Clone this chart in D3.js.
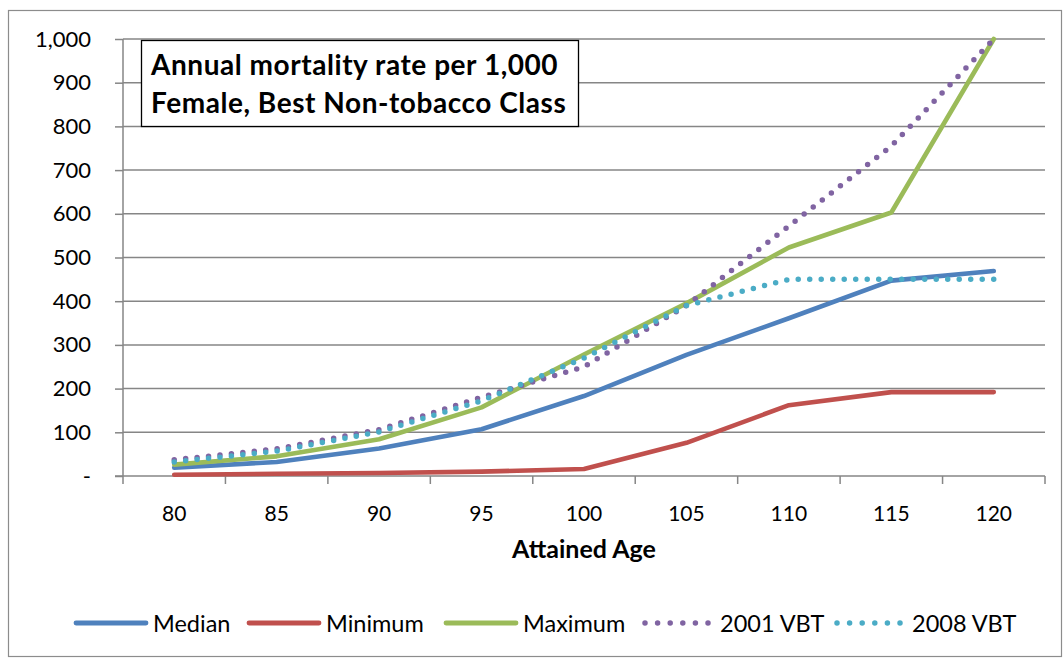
<!DOCTYPE html>
<html>
<head>
<meta charset="utf-8">
<script src="https://cdn.jsdelivr.net/npm/d3@7"></script>
<style>
  html, body { margin: 0; padding: 0; background: #fff; }
  svg { display: block; font-family: Lato, "Open Sans", sans-serif; }
</style>
</head>
<body>
<svg id="chart" width="1063" height="658"></svg>
<script>
// Attained ages (categories)
const ages = [80, 85, 90, 95, 100, 105, 110, 115, 120];

// Annual mortality rate per 1,000 by series
const median  = [19, 32, 63, 107, 183, 277, 361, 447, 469];
const minimum = [3, 5, 7, 10, 16, 76, 162, 192, 192];
const maximum = [26, 45, 84, 157, 278, 395, 523, 603, 1000];
const vbt2001 = [37, 62, 106, 180, 250, 390, 572, 755, 1000];
const vbt2008 = [32, 57, 101, 172, 270, 390, 450, 450, 450];

const yTicks = [0, 100, 200, 300, 400, 500, 600, 700, 800, 900, 1000];

const series = [
  { name: "Median",   values: median,  color: "#4F81BD", dotted: false },
  { name: "Minimum",  values: minimum, color: "#C0504D", dotted: false },
  { name: "Maximum",  values: maximum, color: "#9BBB59", dotted: false },
  { name: "2001 VBT", values: vbt2001, color: "#8064A2", dotted: true },
  { name: "2008 VBT", values: vbt2008, color: "#4BACC6", dotted: true }
];

const svg = d3.select("#chart");
const plot = { left: 123, right: 1045, top: 39, bottom: 476 };
const gridColor = "#868686";

// Outer chart frame
svg.append("rect")
  .attr("x", 8.5).attr("y", 10.5)
  .attr("width", 1053).attr("height", 646)
  .attr("fill", "#fff").attr("stroke", "#8c8c8c").attr("stroke-width", 1.2);

const x = d3.scaleBand().domain(ages).range([plot.left, plot.right]).padding(0);
const y = d3.scaleLinear().domain([0, 1000]).range([plot.bottom, plot.top]);

// Horizontal gridlines
svg.append("g")
  .selectAll("line")
  .data(yTicks.filter(d => d > 0))
  .join("line")
  .attr("x1", plot.left).attr("x2", plot.right)
  .attr("y1", d => y(d)).attr("y2", d => y(d))
  .attr("stroke", gridColor).attr("stroke-width", 1.5);

// Y axis
const yAxis = d3.axisLeft(y)
  .tickValues(yTicks)
  .tickSize(8)
  .tickPadding(24)
  .tickFormat(d => d === 0 ? "-   " : d3.format(",")(d));
const gy = svg.append("g").attr("transform", `translate(${plot.left},0)`).call(yAxis);
gy.select(".domain").attr("stroke", gridColor).attr("stroke-width", 1.5)
  .attr("d", `M0,${plot.top}V${plot.bottom}`);
gy.selectAll(".tick line").attr("stroke", gridColor).attr("stroke-width", 1.5);
gy.selectAll(".tick text").attr("font-size", 22).attr("fill", "#000")
  .attr("font-family", "Lato, sans-serif");

// X axis with tick marks between categories
const xAxis = d3.axisBottom(x).tickSize(0).tickPadding(30);
const gx = svg.append("g").attr("transform", `translate(0,${plot.bottom})`).call(xAxis);
gx.select(".domain").attr("stroke", gridColor).attr("stroke-width", 1.5)
  .attr("d", `M${plot.left - 8},0H${plot.right}`);
gx.selectAll(".tick text").attr("font-size", 21).attr("fill", "#000")
  .attr("font-family", "Lato, sans-serif");
const bounds = ages.map(a => x(a)).concat([x(ages[ages.length - 1]) + x.bandwidth()]);
gx.append("g").selectAll("line")
  .data(bounds)
  .join("line")
  .attr("x1", d => d).attr("x2", d => d)
  .attr("y1", 0).attr("y2", 8)
  .attr("stroke", gridColor).attr("stroke-width", 1.5);

// Axis title
svg.append("text")
  .attr("x", x(100) + x.bandwidth() / 2).attr("y", 558)
  .attr("text-anchor", "middle")
  .attr("font-size", 25).attr("font-weight", "bold")
  .text("Attained Age");

// Series lines
const line = d3.line()
  .x((d, i) => x(ages[i]) + x.bandwidth() / 2)
  .y(d => y(d));

svg.append("g")
  .selectAll("path")
  .data(series)
  .join("path")
  .attr("d", s => line(s.values))
  .attr("fill", "none")
  .attr("stroke", s => s.color)
  .attr("stroke-width", s => s.dotted ? 5.5 : 4.6)
  .attr("stroke-linecap", "round")
  .attr("stroke-linejoin", "round")
  .attr("stroke-dasharray", s => s.dotted ? "0 11.5" : null);

// Title box
const tb = svg.append("g");
tb.append("rect")
  .attr("x", 141.5).attr("y", 40.5).attr("width", 437).attr("height", 86)
  .attr("fill", "#fff").attr("stroke", "#000").attr("stroke-width", 1.3);
tb.append("text")
  .attr("x", 151).attr("y", 75)
  .attr("font-size", 28).attr("font-weight", "bold")
  .attr("letter-spacing", 0.55)
  .text("Annual mortality rate per 1,000");
tb.append("text")
  .attr("x", 151).attr("y", 113)
  .attr("font-size", 28).attr("font-weight", "bold")
  .attr("letter-spacing", 0.55)
  .text("Female, Best Non-tobacco Class");

// Legend
const legendX = [76, 249, 446, 645, 837];
const legY = 623;
const leg = svg.append("g")
  .selectAll("g")
  .data(series)
  .join("g")
  .attr("transform", (s, i) => `translate(${legendX[i]},${legY})`);
leg.append("line")
  .attr("x1", 0).attr("x2", s => s.dotted ? 64 : 70)
  .attr("y1", 0).attr("y2", 0)
  .attr("stroke", s => s.color)
  .attr("stroke-width", s => s.dotted ? 5.5 : 4.8)
  .attr("stroke-linecap", "round")
  .attr("stroke-dasharray", s => s.dotted ? "0 12.6" : null);
leg.append("text")
  .attr("x", s => s.dotted ? 75 : 77)
  .attr("y", 8.5)
  .attr("font-size", 23.5)
  .text(s => s.name);
</script>
</body>
</html>
